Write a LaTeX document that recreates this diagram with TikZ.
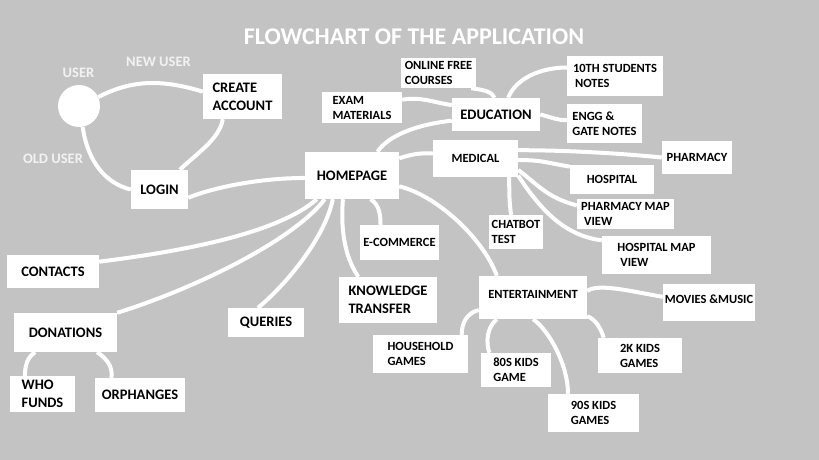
\documentclass[tikz,border=0pt]{standalone}
\usepackage{fontspec}
\setmainfont{Carlito}
\pgfdeclarelayer{back}
\pgfsetlayers{back,main}
\definecolor{canvas}{HTML}{C3C3C3}
\definecolor{pale}{HTML}{F2F2F2}

\begin{document}
\begin{tikzpicture}[x=1pt, y=-1pt,
	box/.style={fill=white, align=left, inner sep=0pt, font=\bfseries\fontsize{12.5}{15}\selectfont},
	bigbox/.style={box, font=\bfseries\fontsize{14.5}{18}\selectfont},
	tag/.style={text=pale, font=\bfseries\fontsize{14.5}{18}\selectfont},
	link/.style={draw=white, line width=4pt}]
	\useasboundingbox (0,0) rectangle (819,460);
	\node[text=white, font=\bfseries\fontsize{24}{28}\selectfont] (title) at (414,37) {FLOWCHART OF THE APPLICATION};
	\node[tag] (userlbl) at (78.5,72.5) {USER};
	\node[tag] (newlbl) at (158.5,61.5) {NEW USER};
	\node[tag] (oldlbl) at (53,158.5) {OLD USER};
	\node[circle, fill=white, minimum size=42, inner sep=0pt] (user) at (79,106) {};
	\node[bigbox, minimum width=79, minimum height=45] (create) at (242.5,96.5) {CREATE\\ACCOUNT};
	\node[bigbox, minimum width=57, minimum height=39] (login) at (159.5,189.5) {LOGIN};
	\node[bigbox, minimum width=94, minimum height=47] (home) at (352,175.5) {HOMEPAGE};
	\node[bigbox, minimum width=88, minimum height=33] (edu) at (496,114.5) {EDUCATION};
	\node[box, minimum width=75, minimum height=30] (online) at (438.5,73) {ONLINE FREE\\COURSES};
	\node[box, minimum width=80, minimum height=31] (exam) at (362,107.5) {EXAM\\MATERIALS};
	\node[box, minimum width=96, minimum height=40] (tenth) at (615,76) {10TH STUDENTS\\\hspace*{2pt}NOTES};
	\node[box, minimum width=75, minimum height=39] (engg) at (604.5,123.5) {ENGG \&\\GATE NOTES};
	\node[box, minimum width=85, minimum height=37] (medical) at (475.5,158.5) {MEDICAL};
	\node[box, minimum width=70, minimum height=33] (pharmacy) at (697,157.5) {PHARMACY};
	\node[box, minimum width=84, minimum height=29] (hospital) at (612,179.5) {HOSPITAL};
	\node[box, minimum width=97, minimum height=30] (pmap) at (625.5,214) {PHARMACY MAP\\\hspace*{3pt}VIEW};
	\node[box, minimum width=54, minimum height=34] (chatbot) at (516,232) {CHATBOT\\TEST};
	\node[box, minimum width=109, minimum height=38] (hmap) at (656.5,255) {HOSPITAL MAP\\\hspace*{3pt}VIEW};
	\node[box, minimum width=79, minimum height=35] (ecom) at (399.5,242.5) {E-COMMERCE};
	\node[bigbox, minimum width=98, minimum height=46] (know) at (388,300) {KNOWLEDGE\\TRANSFER};
	\node[box, minimum width=108, minimum height=43, text depth=7pt] (ent) at (533,297.5) {ENTERTAINMENT};
	\node[box, minimum width=95, minimum height=38] (house) at (420.5,354) {HOUSEHOLD\\GAMES};
	\node[box, minimum width=70, minimum height=34] (eighty) at (516,370) {80S KIDS\\GAME};
	\node[box, minimum width=91, minimum height=38] (ninety) at (593.5,413) {90S KIDS\\GAMES};
	\node[box, minimum width=84, minimum height=35] (twok) at (640,355.5) {2K KIDS\\GAMES};
	\node[box, minimum width=92, minimum height=37, text depth=7pt] (movies) at (709,302.5) {MOVIES \&MUSIC};
	\node[bigbox, minimum width=92, minimum height=33] (contacts) at (53,271.5) {CONTACTS};
	\node[bigbox, minimum width=103, minimum height=39] (donations) at (65.5,332.5) {DONATIONS};
	\node[bigbox, minimum width=65, minimum height=36] (who) at (42.5,394) {WHO\\FUNDS};
	\node[bigbox, minimum width=90, minimum height=34] (orph) at (140,395) {ORPHANGES};
	\node[bigbox, minimum width=76, minimum height=29] (queries) at (266,322.5) {QUERIES};
	\begin{pgfonlayer}{back}
		\fill[canvas] (0,0) rectangle (819,460);
		\draw[link] (user.25) .. controls +(35,-18) and +(-40,-12) .. (create.173);
		\draw[link] (user.280) .. controls +(5,35) and +(-25,-6) .. (login.west);
		\draw[link] (create.229) .. controls +(-3,20) and +(15,-15) .. (login.44);
		\draw[link] (login.-16) .. controls +(30,-12) and +(-40,0) .. (home.183);
		\draw[link] (home.43) .. controls +(12,-18) and +(-30,3) .. (edu.188);
		\draw[link] (exam.11) .. controls +(20,-3) and +(-20,-3) .. (edu.168);
		\draw[link] (online.-25) .. controls +(15,2) and +(-3,-6) .. (edu.95);
		\draw[link] (edu.54) .. controls +(8,-20) and +(-25,0) .. (tenth.170);
		\draw[link] (edu.east) .. controls +(12,3) and +(-10,0) .. (engg.175);
		\draw[link] (home.20) .. controls +(15,-5) and +(-12,0) .. (medical.173);
		\draw[link] (medical.11) .. controls +(50,0) and +(-40,-4) .. (pharmacy.west);
		\draw[link] (medical.-2) .. controls +(25,0) and +(-20,-3) .. (hospital.163);
		\draw[link] (medical.-15) .. controls +(20,15) and +(-30,-8) .. (pmap.170);
		\draw[link] (medical.-22) .. controls +(20,30) and +(-40,-5) .. (hmap.165);
		\draw[link] (medical.-29) .. controls +(0,15) and +(-2,-15) .. (chatbot.106);
		\draw[link] (home.-13) .. controls +(35,8) and +(-15,-40) .. (ent.149);
		\draw[link] (home.-52) .. controls +(8,5) and +(0,-12) .. (ecom.137);
		\draw[link] (home.249) .. controls +(-3,40) and +(-10,-15) .. (know.142);
		\draw[link] (home.231) .. controls +(-8,40) and +(25,-20) .. (queries.119);
		\draw[link] (home.221) .. controls +(-30,40) and +(80,-25) .. (donations.north east);
		\draw[link] (home.214) .. controls +(-40,35) and +(80,-10) .. (contacts.12);
		\draw[link] (ent.193) .. controls +(-12,3) and +(0,-12) .. (house.25);
		\draw[link] (ent.211) .. controls +(-10,8) and +(-4,-10) .. (eighty.147);
		\draw[link] (ent.south) .. controls +(15,10) and +(0,-30) .. (ninety.143);
		\draw[link] (ent.-19) .. controls +(8,3) and +(-3,-10) .. (twok.154);
		\draw[link] (ent.7) .. controls +(12,-8) and +(-30,-5) .. (movies.173);
		\draw[link] (donations.213) .. controls +(-8,5) and +(0,-10) .. (who.134);
		\draw[link] (donations.-32) .. controls +(8,5) and +(2,-12) .. (orph.149);
	\end{pgfonlayer}
\end{tikzpicture}
\end{document}
